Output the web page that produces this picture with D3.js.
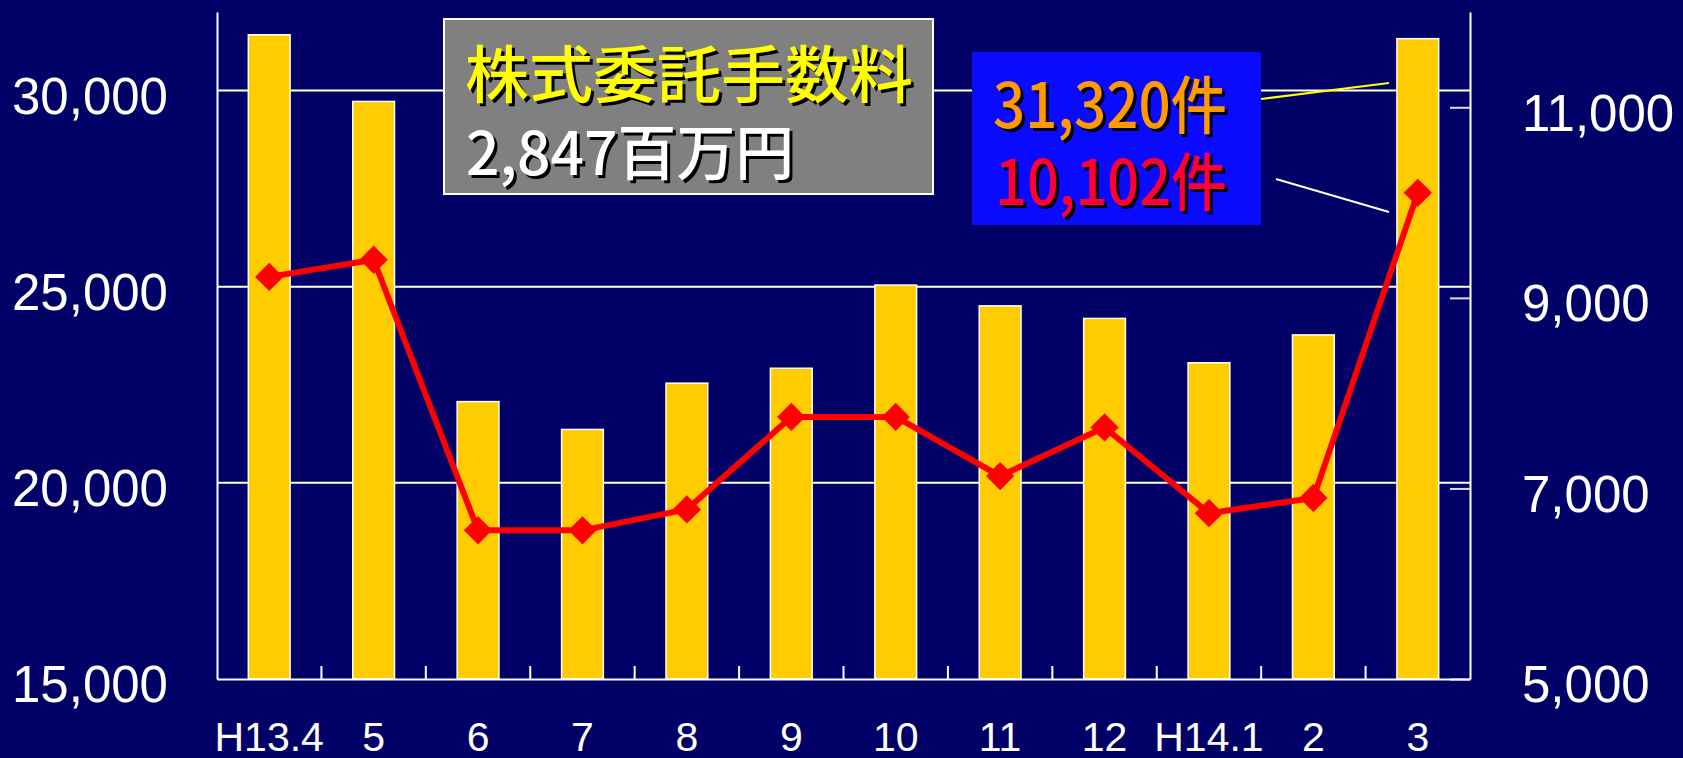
<!DOCTYPE html>
<html>
<head>
<meta charset="utf-8">
<script src="https://cdn.jsdelivr.net/npm/d3@7"></script>
<style>
  body { margin: 0; background: #000066; }
  svg { display: block; }
</style>
</head>
<body>
<div id="chart"></div>
<script>
// data
var months = ["H13.4", "5", "6", "7", "8", "9", "10", "11", "12", "H14.1", "2", "3"];
var barCounts = [31420, 29720, 22070, 21360, 22540, 22920, 25040, 24510, 24190, 23060, 23770, 31320];
var lineCounts = [9220, 9400, 6560, 6560, 6780, 7750, 7750, 7130, 7640, 6740, 6900, 10102];
var leftTicks = [15000, 20000, 25000, 30000];
var rightTicks = [5000, 7000, 9000, 11000];
var titleLines = ["株式委託手数料", "2,847百万円"];
var calloutLines = ["31,320件", "10,102件"];

var W = 1683, H = 758;
var plotL = 217, plotR = 1470, plotT = 12, plotB = 679;
var numFont = "'Liberation Sans', Arial, sans-serif";
var cjkFont = "'Noto Sans CJK JP', 'Noto Sans', sans-serif";

var svg = d3.select("#chart").append("svg")
    .attr("width", W).attr("height", H);

svg.append("rect").attr("width", W).attr("height", H).attr("fill", "#000066");

var x = d3.scaleBand().domain(months).range([plotL, plotR])
    .paddingInner(0.6).paddingOuter(0.3);
var yL = d3.scaleLinear().domain([15000, 32000]).range([plotB, plotT]);
var yR = d3.scaleLinear().domain([5000, 12000]).range([plotB, plotT]);

// gridlines
svg.append("g").selectAll("line")
    .data(leftTicks.slice(1))
    .enter().append("line")
    .attr("x1", plotL).attr("x2", plotR)
    .attr("y1", function (d) { return yL(d); })
    .attr("y2", function (d) { return yL(d); })
    .attr("stroke", "#fff").attr("stroke-width", 2);

// bars
svg.append("g").selectAll("rect")
    .data(barCounts)
    .enter().append("rect")
    .attr("x", function (d, i) { return x(months[i]); })
    .attr("y", function (d) { return yL(d); })
    .attr("width", x.bandwidth())
    .attr("height", function (d) { return plotB - yL(d); })
    .attr("fill", "#ffcc00")
    .attr("stroke", "#fff").attr("stroke-width", 1.5);

// left axis
var gL = svg.append("g").attr("transform", "translate(" + plotL + ",0)")
    .call(d3.axisLeft(yL).tickValues(leftTicks).tickSize(0).tickPadding(49)
        .tickFormat(d3.format(",")));
gL.select(".domain").attr("stroke", "#fff").attr("stroke-width", 2);
gL.selectAll("text").attr("fill", "#fff").attr("dy", "0.45em")
    .style("font-family", numFont).style("font-size", "51px");

// right axis
var gR = svg.append("g").attr("transform", "translate(" + plotR + ",0)")
    .call(d3.axisRight(yR).tickValues(rightTicks).tickSizeInner(-20).tickSizeOuter(0)
        .tickPadding(52).tickFormat(d3.format(",")));
gR.select(".domain").attr("stroke", "#fff").attr("stroke-width", 2);
gR.selectAll("line").attr("stroke", "#ddd").attr("stroke-width", 2);
gR.selectAll("text").attr("fill", "#fff").attr("dy", "0.45em")
    .style("font-family", numFont).style("font-size", "51px");

// bottom axis
var gB = svg.append("g").attr("transform", "translate(0," + plotB + ")")
    .call(d3.axisBottom(x).tickSize(0).tickPadding(43));
gB.select(".domain").attr("stroke", "#fff").attr("stroke-width", 2);
gB.selectAll("text").attr("fill", "#fff")
    .style("font-family", numFont).style("font-size", "41px");

// category separators on the bottom axis
svg.append("g").selectAll("line")
    .data(months.slice(0, -1))
    .enter().append("line")
    .attr("x1", function (d) { return x(d) + x.bandwidth() + x.step() * x.paddingInner() / 2; })
    .attr("x2", function (d) { return x(d) + x.bandwidth() + x.step() * x.paddingInner() / 2; })
    .attr("y1", plotB).attr("y2", plotB - 13)
    .attr("stroke", "#fff").attr("stroke-width", 2);

// line + diamonds
var line = d3.line()
    .x(function (d, i) { return x(months[i]) + x.bandwidth() / 2; })
    .y(function (d) { return yR(d); });

svg.append("path").datum(lineCounts)
    .attr("d", line)
    .attr("fill", "none").attr("stroke", "#ff0000").attr("stroke-width", 6)
    .attr("stroke-linejoin", "round");

svg.append("g").selectAll("path")
    .data(lineCounts)
    .enter().append("path")
    .attr("d", d3.symbol(d3.symbolSquare, 400))
    .attr("transform", function (d, i) {
      return "translate(" + (x(months[i]) + x.bandwidth() / 2) + "," + yR(d) + ") rotate(45)";
    })
    .attr("fill", "#ff0000");

// shadowed text helper
function shadowText(g, str, tx, ty, size, color, len, family) {
  [[3, 3, "#000"], [0, 0, color]].forEach(function (s) {
    g.append("text")
      .attr("x", tx + s[0]).attr("y", ty + s[1])
      .attr("textLength", len).attr("lengthAdjust", "spacingAndGlyphs")
      .style("font-family", family).style("font-size", size + "px")
      .style("font-weight", 500)
      .attr("fill", s[2])
      .text(str);
  });
}

// title box
var tb = svg.append("g");
tb.append("rect").attr("x", 444).attr("y", 19).attr("width", 489).attr("height", 175)
    .attr("fill", "#808080").attr("stroke", "#fff").attr("stroke-width", 2);
shadowText(tb, titleLines[0], 465, 98, 62, "#ffff00", 448, cjkFont);
shadowText(tb, titleLines[1], 466, 175, 60, "#ffffff", 328, cjkFont);

// callout box
var cb = svg.append("g");
cb.append("rect").attr("x", 972).attr("y", 52).attr("width", 289).attr("height", 173)
    .attr("fill", "#0a0aff");
shadowText(cb, calloutLines[0], 993, 128, 63, "#ff9900", 234, cjkFont);
shadowText(cb, calloutLines[1], 995, 205, 63, "#ff0033", 232, cjkFont);

// leader lines to the last month
cb.append("line").attr("x1", 1261).attr("y1", 99).attr("x2", 1389).attr("y2", 83)
    .attr("stroke", "#ffff00").attr("stroke-width", 2);
cb.append("line").attr("x1", 1276).attr("y1", 179).attr("x2", 1389).attr("y2", 212)
    .attr("stroke", "#fff").attr("stroke-width", 2);
</script>
</body>
</html>
